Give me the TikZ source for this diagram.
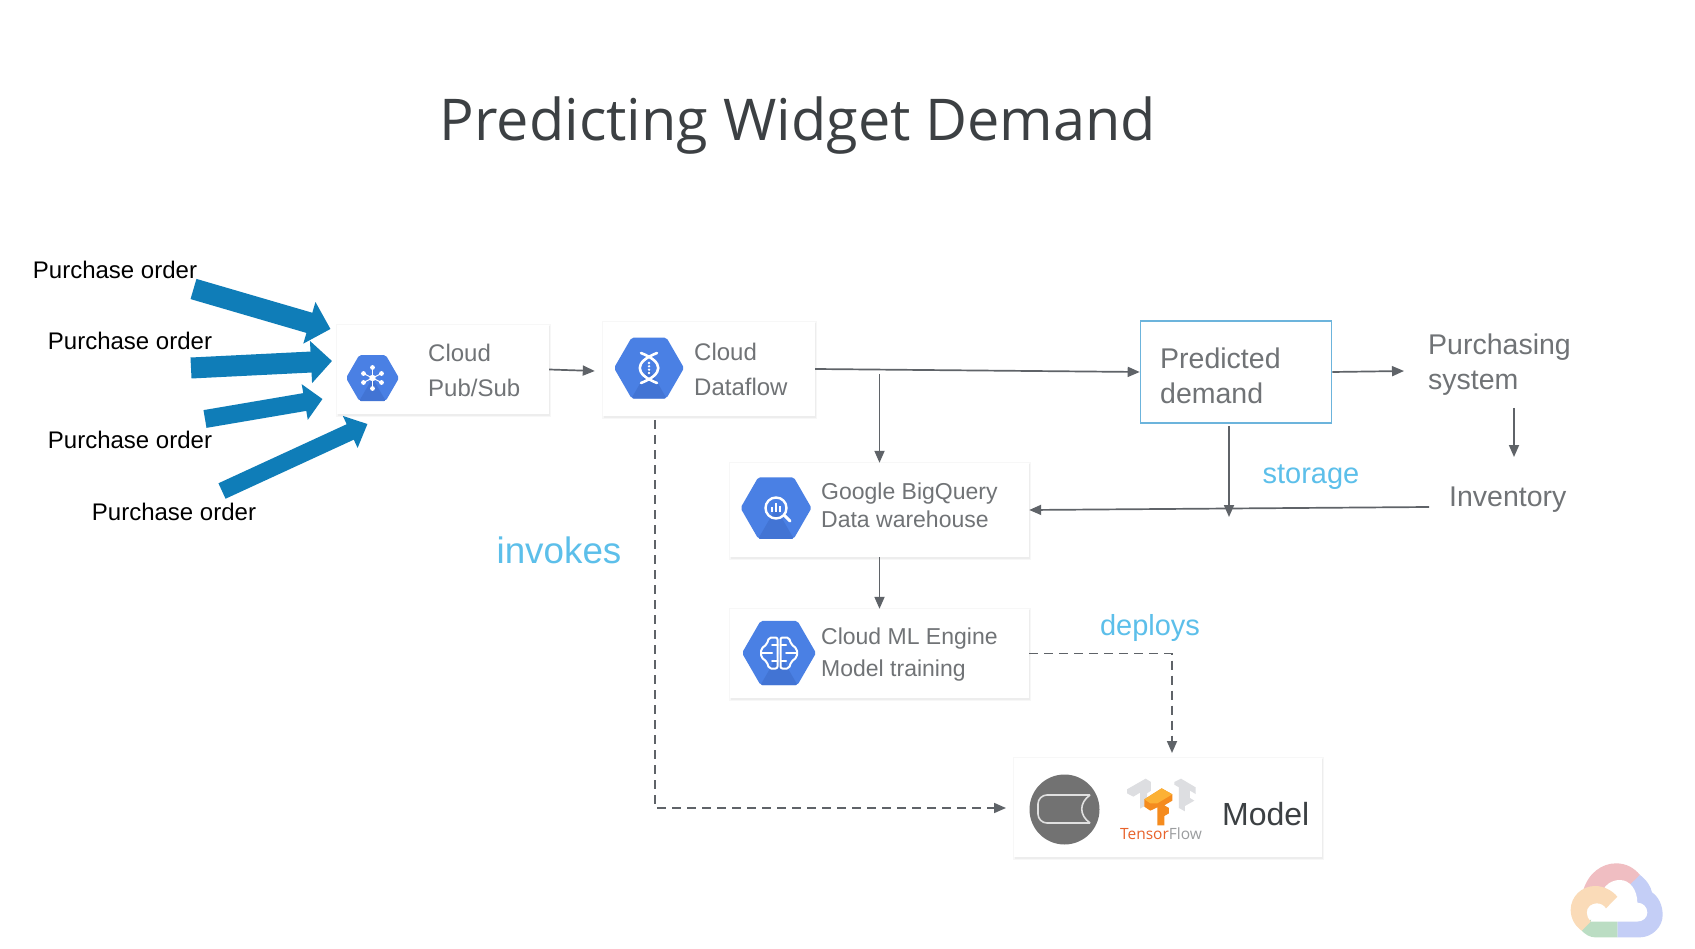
\documentclass[tikz,border=0pt]{standalone}
\usepackage{fontspec}
\setmainfont{Liberation Sans}
\newfontfamily\titlefont{Open Sans}
\usetikzlibrary{arrows.meta,positioning,shapes.geometric,calc}
\definecolor{titlegrey}{HTML}{3C4043}
\definecolor{textgrey}{HTML}{707376}
\definecolor{linegrey}{HTML}{5F6368}
\definecolor{labelblue}{HTML}{5CBFEA}
\definecolor{boxblue}{HTML}{6CB4DC}
\definecolor{orderblue}{HTML}{0F7DB8}
\definecolor{hexblue}{HTML}{4A80E4}
\definecolor{hexshade}{HTML}{4274D4}
\definecolor{iconring}{HTML}{727272}
\definecolor{tforange}{HTML}{F58B1E}
\definecolor{tfyellow}{HTML}{FCB135}
\definecolor{tfred}{HTML}{E8622A}
\definecolor{tfgrey}{HTML}{DDDEE1}
\definecolor{cloudred}{HTML}{F0BEC2}
\definecolor{cloudblue}{HTML}{C4CEF6}
\definecolor{cloudgreen}{HTML}{BBDDC3}
\definecolor{cloudyellow}{HTML}{FADBB8}
\tikzset{
  card/.style={fill=white, inner sep=0pt},
  cardtext/.style={font=\fontsize{23}{23}\selectfont, text=textgrey, anchor=base west, inner sep=0pt},
  bigtext/.style={cardtext, font=\fontsize{28.5}{28.5}\selectfont},
  notetext/.style={text=labelblue, anchor=base, inner sep=0pt},
  ordertext/.style={font=\fontsize{24}{24}\selectfont, text=black, inner sep=0pt},
  flow/.style={draw=linegrey, line width=1.7pt, -{Triangle[length=12pt,width=10pt]}},
  dashflow/.style={flow, dash pattern=on 9pt off 6pt},
  orderarrow/.style={draw=orderblue},
  hexicon/.style={regular polygon, regular polygon sides=6, fill=hexblue, inner sep=0pt, rounded corners=2pt},
  iconline/.style={draw=white, line width=2pt, line cap=round, line join=round},
}
\newcommand{\cardbox}[5]{%
  \fill[black!3] (#2-1,#3-1) rectangle (#4+2,#5+3);
  \fill[black!7] (#2+1,#3+1) rectangle (#4+1,#5+2);
  \node[card, minimum width=#4pt-#2pt, minimum height=#5pt-#3pt] (#1) at ({(#2+#4)/2},{(#3+#5)/2}) {};
}
\newcommand{\hexshading}[1]{%
  \fill[hexshade, rounded corners=2pt] (#1.center) -- (#1.corner 4) -- (#1.corner 5) -- cycle;
}
\begin{document}
\begin{tikzpicture}[x=1pt,y=-1pt]
  \useasboundingbox (0,0) rectangle (1695,949);
  \fill[white] (0,0) rectangle (1695,949);
  % title
  \node[font=\titlefont\fontsize{57.6}{58}\selectfont, text=titlegrey, inner sep=0pt] (title) at (798,126) {Predicting Widget Demand};
  % boxes
  \cardbox{pubsub}{337}{325}{549}{414}
  \cardbox{dataflow}{603}{322}{815}{416}
  \cardbox{bigquery}{730}{463}{1029}{557}
  \cardbox{mlengine}{730}{609}{1029}{698}
  \cardbox{model}{1014}{758}{1322}{857}
  \node[draw=boxblue, line width=1.6pt, minimum width=191pt, minimum height=102pt, inner sep=0pt] (predicted) at (1236,372) {};
  % hexagons
  \node[hexicon, minimum size=53pt] (pubsub_hex) at (372.5,378) {};
  \node[hexicon, minimum size=70pt] (dataflow_hex) at (649,368) {};
  \node[hexicon, minimum size=71pt] (bigquery_hex) at (776,508) {};
  \node[hexicon, minimum size=74pt] (mlengine_hex) at (779,653) {};
  \hexshading{pubsub_hex}
  \hexshading{dataflow_hex}
  \hexshading{bigquery_hex}
  \hexshading{mlengine_hex}
  % pub/sub glyph
  \begin{scope}[shift={(372.5,378)}]
    \foreach \px/\py in {0/-10.5, -9/-4.5, 9/-4.5, -9/4.5, 9/4.5, 0/10.5} {
      \draw[white, line width=1pt] (0,0) -- (\px,\py);
      \fill[white] (\px,\py) circle[radius=2.4];
    }
    \fill[white] (0,0) circle[radius=3.2];
  \end{scope}
  % dataflow glyph
  \begin{scope}[shift={(649,368)}]
    \draw[iconline, line width=2.6pt] (8,-15) .. controls (-15,-6) and (-15,6) .. (8,15);
    \draw[iconline, line width=2.6pt] (-8,-15) .. controls (15,-6) and (15,6) .. (-8,15);
    \foreach \py in {-5,-1.7,1.7,5}
      \fill[white] (0,\py) circle[radius=1.3];
  \end{scope}
  % bigquery glyph
  \begin{scope}[shift={(776,508)}]
    \draw[iconline, line width=2.4pt] (0,0) circle[radius=10.5];
    \draw[iconline, line width=3pt] (8.5,7.5) -- (14,13);
    \fill[white] (-5,-1) rectangle (-3,4);
    \fill[white] (-1,-5) rectangle (1,4);
    \fill[white] (3,-2) rectangle (5,4);
  \end{scope}
  % ml engine glyph
  \begin{scope}[shift={(779,653)}]
    \draw[iconline, rounded corners=2pt] (-1.5,-15.5) -- (-10,-15.5) -- (-12,-9) -- (-18,-4) -- (-18,4) -- (-12,9) -- (-10,15.5) -- (-1.5,15.5) -- cycle;
    \draw[iconline, rounded corners=2pt] (1.5,-15.5) -- (10,-15.5) -- (12,-9) -- (18,-4) -- (18,4) -- (12,9) -- (10,15.5) -- (1.5,15.5) -- cycle;
    \draw[iconline] (-1.5,-8) -- (-7,-8) (-18,0) -- (-7,0) (-1.5,8) -- (-7,8);
    \draw[iconline] (1.5,-8) -- (7,-8) (18,0) -- (7,0) (1.5,8) -- (7,8);
  \end{scope}
  % card texts
  \node[cardtext, font=\fontsize{24}{24}\selectfont] (pubsub_a) at (428,362) {Cloud};
  \node[cardtext, font=\fontsize{24}{24}\selectfont] (pubsub_b) at (428,397) {Pub/Sub};
  \node[cardtext, font=\fontsize{24}{24}\selectfont] (dataflow_a) at (694,361) {Cloud};
  \node[cardtext, font=\fontsize{24}{24}\selectfont] (dataflow_b) at (694,396) {Dataflow};
  \node[cardtext] (bigquery_a) at (821,499) {Google BigQuery};
  \node[cardtext] (bigquery_b) at (821,527.5) {Data warehouse};
  \node[cardtext] (mlengine_a) at (821,644) {Cloud ML Engine};
  \node[cardtext] (mlengine_b) at (821,676.5) {Model training};
  \node[bigtext] (predicted_a) at (1160,369) {Predicted};
  \node[bigtext] (predicted_b) at (1160,404) {demand};
  \node[bigtext] (purchasing_a) at (1428,355) {Purchasing};
  \node[bigtext] (purchasing_b) at (1428,390) {system};
  \node[bigtext] (inventory) at (1449,506) {Inventory};
  \node[bigtext, font=\fontsize{32}{32}\selectfont, text=titlegrey] (model_text) at (1222,825) {Model};
  % notes
  \node[notetext, font=\fontsize{36.8}{37}\selectfont] (invokes) at (559,563) {invokes};
  \node[notetext, font=\fontsize{29}{29}\selectfont] (storage) at (1311,483) {storage};
  \node[notetext, font=\fontsize{29}{29}\selectfont] (deploys) at (1150,635) {deploys};
  % purchase orders
  \node[ordertext] (order_a) at (115,270) {Purchase order};
  \node[ordertext] (order_b) at (130,341) {Purchase order};
  \node[ordertext] (order_c) at (130,440) {Purchase order};
  \node[ordertext] (order_d) at (174,512) {Purchase order};
  \coordinate (tail_a) at (193.5,289);
  \coordinate (tip_a) at (330.5,329);
  \coordinate (tail_b) at (191,368);
  \coordinate (tip_b) at (332,361);
  \coordinate (tail_c) at (205,419);
  \coordinate (tip_c) at (322.5,399);
  \coordinate (tail_d) at (222,491);
  \coordinate (tip_d) at (367.5,424);
  \draw[orderarrow, line width=21pt, -{Triangle[length=22pt,width=42pt]}] (tail_a) -- (tip_a);
  \draw[orderarrow, line width=21pt, -{Triangle[length=21pt,width=41pt]}] (tail_b) -- (tip_b);
  \draw[orderarrow, line width=18pt, -{Triangle[length=18pt,width=35pt]}] (tail_c) -- (tip_c);
  \draw[orderarrow, line width=17pt, -{Triangle[length=19pt,width=34pt]}] (tail_d) -- (tip_d);
  % connectors
  \coordinate (bigquery_in) at (879.5,374);
  \coordinate (storage_in) at (1229,426);
  \coordinate (storage_tip) at (1229,517);
  \coordinate (purchasing_in) at (1404,371);
  \coordinate (purchasing_out) at (1514,408);
  \coordinate (inventory_in) at (1514,457);
  \coordinate (inventory_out) at (1429,507);
  \coordinate (invokes_in) at (655,420);
  \coordinate (model_in) at (1006,808);
  \coordinate (deploys_tip) at (1172,753);
  \draw[flow] (pubsub.east) -- ($(dataflow.west)+(-8,2)$);
  \draw[flow] (dataflow.east) -- (predicted.west);
  \draw[flow] (bigquery_in) -- (bigquery.north);
  \draw[flow] (bigquery.south) -- (mlengine.north);
  \draw[flow] (predicted.east) -- (purchasing_in);
  \draw[flow] (storage_in) -- (storage_tip);
  \draw[flow] (purchasing_out) -- (inventory_in);
  \draw[flow] (inventory_out) -- (bigquery.east);
  \draw[dashflow] (invokes_in) |- (model_in);
  \draw[dashflow] (mlengine.east) -| (deploys_tip);
  % model logo
  \fill[iconring] (1064.5,809.5) circle[radius=35];
  \draw[white!88!black, line width=1.6pt, rounded corners=9pt] (1090,795) -- (1038,795) -- (1038,823) -- (1090,823);
  \draw[white!88!black, line width=1.6pt] (1090,795) .. controls (1079,803) and (1079,815) .. (1090,823);
  % tensorflow logo
  \begin{scope}[shift={(1025,770)}, x=0.3333pt, y=-0.3333pt]
    \fill[tfgrey] (306,58) -- (362,26) -- (378,36) -- (378,62) -- (366,70) -- (366,104) -- (345,116) -- (345,68) -- (325,80) -- (306,70) -- cycle;
    \fill[tfgrey] (448,36) -- (468,26) -- (512,52) -- (512,72) -- (495,62) -- (495,84) -- (508,92) -- (480,108) -- (480,124) -- (462,114) -- (462,52) -- (448,44) -- cycle;
    \fill[tforange] (358,88) -- (410,55) -- (442,73) -- (442,92) -- (418,106) -- (432,114) -- (432,130) -- (418,138) -- (418,166) -- (397,166) -- (397,112) -- (376,122) -- (358,110) -- cycle;
    \fill[tfyellow] (358,88) -- (410,55) -- (442,73) -- (397,100) -- (376,100) -- cycle;
  \end{scope}
  \node[font=\titlefont\fontsize{15.5}{16}\selectfont, inner sep=0pt] (tensorflow) at (1161,834) {\textcolor{tfred}{Tensor}\textcolor{textgrey!70}{Flow}};
  % cloud mark
  \begin{scope}[shift={(1540,840)}, x=0.3333pt, y=-0.3333pt]
    \fill[cloudred] (130,150) .. controls (145,100) and (185,70) .. (228,70) .. controls (258,70) and (282,83) .. (300,105) -- (250,170) -- (200,170) -- cycle;
    \fill[cloudblue] (300,105) .. controls (322,122) and (332,140) .. (336,157) .. controls (355,170) and (368,195) .. (368,225) .. controls (368,262) and (335,292) .. (300,292) -- (232,292) -- (232,170) -- cycle;
    \fill[cloudgreen] (125,272) -- (150,240) -- (232,240) -- (232,292) -- (165,292) .. controls (150,292) and (137,284) .. (125,272) -- cycle;
    \fill[white] (152,245) -- (290,245) .. controls (310,245) and (322,232) .. (322,218) .. controls (322,200) and (308,188) .. (292,188) .. controls (292,150) and (270,120) .. (240,120) .. controls (215,120) and (195,135) .. (190,150) -- (170,200) -- cycle;
    \fill[cloudyellow] (125,272) .. controls (105,258) and (92,235) .. (92,210) .. controls (92,170) and (125,138) .. (165,138) .. controls (190,138) and (215,150) .. (232,170) -- (198,205) .. controls (192,195) and (182,190) .. (170,190) .. controls (155,190) and (140,200) .. (140,218) .. controls (140,228) and (145,238) .. (152,245) -- cycle;
  \end{scope}
\end{tikzpicture}
\end{document}
